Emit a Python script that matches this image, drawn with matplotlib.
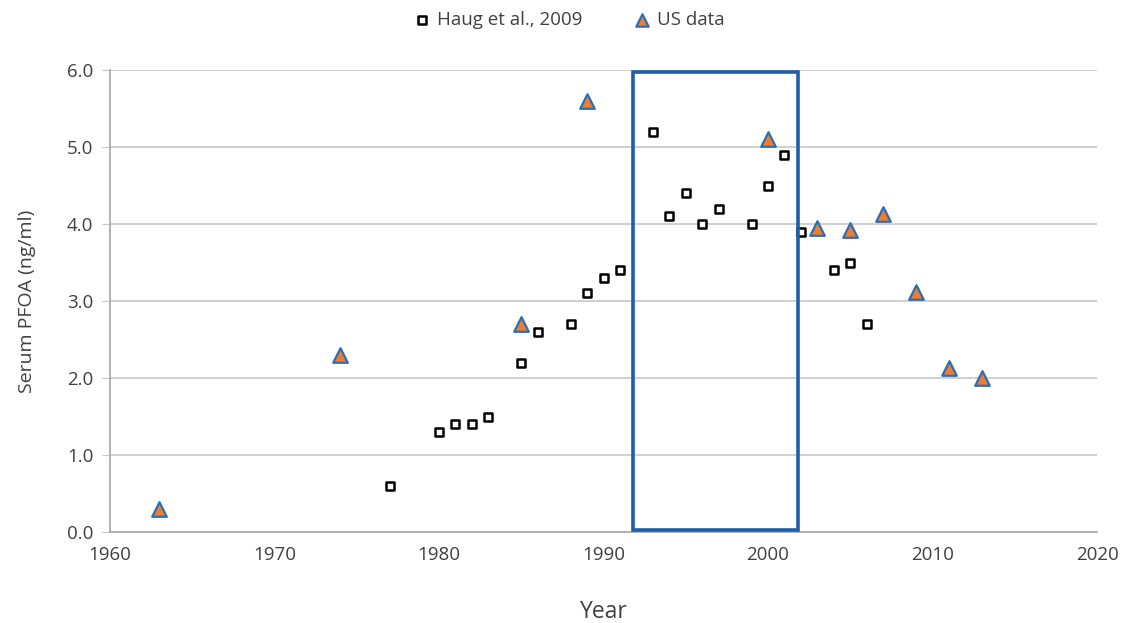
import matplotlib
matplotlib.use("Agg")
import matplotlib.pyplot as plt
from matplotlib.patches import Rectangle

plt.rcParams['font.family'] = ['Open Sans', 'DejaVu Sans']

# Haug et al., 2009
haug_years = [1977, 1980, 1981, 1982, 1983, 1985, 1986, 1988, 1989, 1990, 1991,
              1993, 1994, 1995, 1996, 1997, 1999, 2000, 2001, 2002, 2004, 2005, 2006]
haug_pfoa = [0.6, 1.3, 1.4, 1.4, 1.5, 2.2, 2.6, 2.7, 3.1, 3.3, 3.4,
             5.2, 4.1, 4.4, 4.0, 4.2, 4.0, 4.5, 4.9, 3.9, 3.4, 3.5, 2.7]

# US data
us_years = [1963, 1974, 1985, 1989, 2000, 2003, 2005, 2007, 2009, 2011, 2013]
us_pfoa = [0.3, 2.3, 2.7, 5.6, 5.1, 3.95, 3.92, 4.13, 3.12, 2.13, 2.0]

# highlighted window
box_x = (1991.8, 2001.8)
box_y = (0.02, 5.98)

fig = plt.figure(figsize=(11.26, 6.23), dpi=100)
ax = fig.add_axes([110 / 1126, 1 - 532 / 623, (1097 - 110) / 1126, (532 - 70) / 623])

ax.scatter(haug_years, haug_pfoa, marker='s', s=40, facecolor='white',
           edgecolor='black', linewidth=1.8, label='Haug et al., 2009', zorder=3)
ax.scatter(us_years, us_pfoa, marker='^', s=110, facecolor='#ED7D31',
           edgecolor='#2E6DB4', linewidth=1.6, label='US data', zorder=4)

ax.add_patch(Rectangle((box_x[0], box_y[0]), box_x[1] - box_x[0], box_y[1] - box_y[0],
                       fill=False, edgecolor='#1F5FAA', linewidth=2.6, zorder=5))

ax.set_xlim(1960, 2020)
ax.set_ylim(0, 6)
ax.set_xticks(range(1960, 2021, 10))
ax.set_yticks([0, 1, 2, 3, 4, 5, 6])
ax.set_yticklabels([f"{v:.1f}" for v in range(7)])
ax.grid(axis='y', color='#C8C8C8', linewidth=1.2)
ax.set_axisbelow(True)
for s in ['top', 'right']:
    ax.spines[s].set_visible(False)
for s in ['left', 'bottom']:
    ax.spines[s].set_color('#A6A6A6')
    ax.spines[s].set_linewidth(1.2)
ax.tick_params(axis='y', length=6, color='#C8C8C8', labelsize=13.5, labelcolor='#404040', pad=6)
ax.tick_params(axis='x', length=0, labelsize=13.5, labelcolor='#404040', pad=10)

ax.set_xlabel('Year', fontsize=16.5, color='#404040', labelpad=26)
ax.set_ylabel('Serum PFOA (ng/ml)', fontsize=14, color='#404040', labelpad=22)

fig.legend(*ax.get_legend_handles_labels(), loc='center', bbox_to_anchor=(0.505, 1 - 20 / 623),
           ncol=2, frameon=False, fontsize=13.5, handlelength=1.0, handletextpad=0.3,
           columnspacing=2.7, markerscale=0.85, labelcolor='#404040')

fig.savefig('out.png', dpi=100)
